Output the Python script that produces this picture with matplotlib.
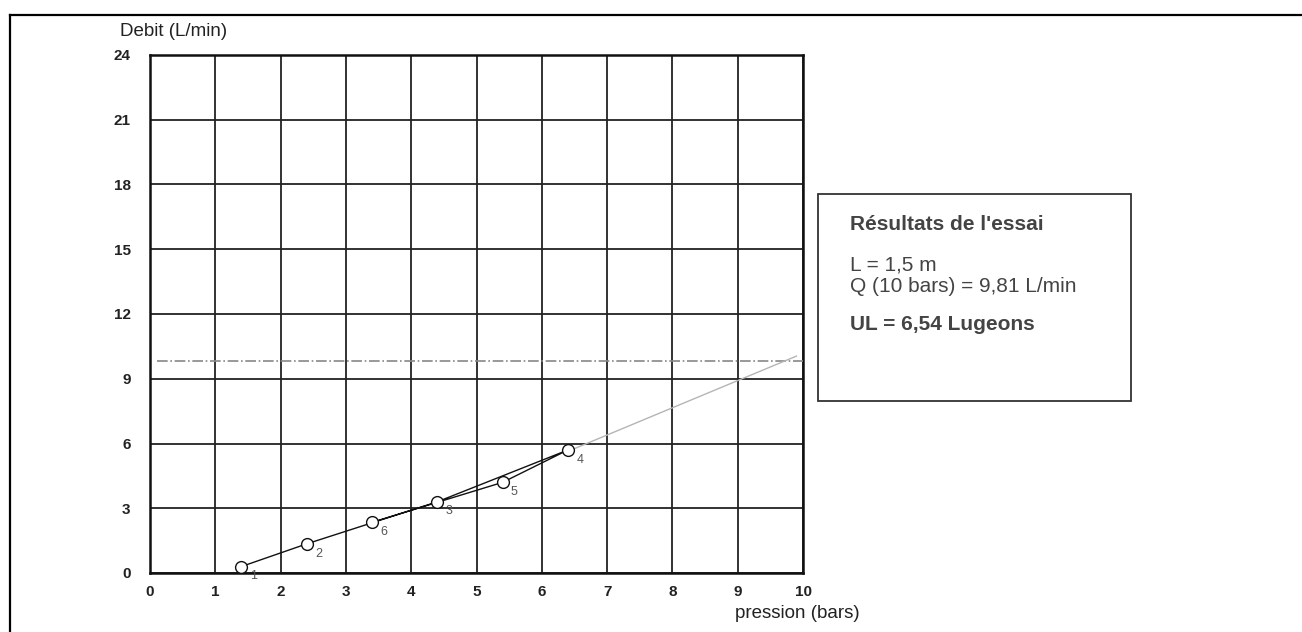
import numpy as np
import matplotlib.pyplot as plt
from matplotlib.patches import Rectangle
from matplotlib.lines import Line2D

# Lugeon test steps, in test order
essai = ['1', '2', '3', '4', '5', '6']
pression = [1.4, 2.4, 4.4, 6.4, 5.4, 3.4]
debit = [0.3, 1.35, 3.3, 5.7, 4.2, 2.35]

# extrapolation up to 10 bars
extrap_p = [6.45, 9.9]
extrap_q = [5.7, 10.05]
q_10bars = 9.81

x_ticks = list(range(0, 11))
y_ticks = list(range(0, 25, 3))

resultats = ["L = 1,5 m", "Q (10 bars) = 9,81 L/min", "UL = 6,54 Lugeons"]

plt.rcParams['font.family'] = ['Liberation Sans', 'DejaVu Sans']

W, H = 1302, 632
fig = plt.figure(figsize=(W / 100, H / 100), dpi=100)
ax = fig.add_axes([150 / W, 1 - 573 / H, 653 / W, 518 / H])

ax.set_xlim(0, 10)
ax.set_ylim(0, 24)
ax.set_xticks(x_ticks)
ax.set_yticks(y_ticks)
ax.tick_params(length=0, labelsize=11, colors='#222')
ax.tick_params(axis='y', pad=14)
ax.tick_params(axis='x', pad=9)
for lab in ax.get_xticklabels() + ax.get_yticklabels():
    lab.set_fontweight('bold')
ax.grid(True, color='#222', lw=1.3)
for s in ax.spines.values():
    s.set_linewidth(1.8)
    s.set_color('#111')

# horizontal line at Q(10 bars)
ax.axhline(q_10bars, xmin=0.01, xmax=1, color='#888', lw=1.2, ls='-.', zorder=3)
# extrapolation
ax.plot(extrap_p, extrap_q, color='#b5b5b5', lw=1.0, zorder=3)

# measured points
ax.plot(pression, debit, color='#111', lw=1.0, zorder=4)
ax.plot(pression, debit, 'o', ms=8.5, mfc='white', mec='#111', mew=1.0, zorder=5)
for lab, p, q in zip(essai, pression, debit):
    ax.annotate(lab, (p, q), xytext=(6, -7), textcoords='offset points',
                fontsize=9, color='#555', va='center')

# axis titles
fig.text(120 / W, 1 - 31 / H, "Debit (L/min)", fontsize=13.5, color='#222', va='center')
fig.text(735 / W, 1 - 614 / H, "pression (bars)", fontsize=13.5, color='#222', va='center')

# page frame
fig.add_artist(Line2D([10 / W, 1.0], [1 - 15 / H] * 2, transform=fig.transFigure, color='black', lw=1.6))
fig.add_artist(Line2D([10 / W] * 2, [0, 1 - 15 / H], transform=fig.transFigure, color='black', lw=1.6))

# results box
fig.add_artist(Rectangle((818 / W, 1 - 401 / H), 313 / W, 207 / H, transform=fig.transFigure,
                         fill=False, edgecolor='#333', lw=1.3))
fig.text(850 / W, 1 - 225 / H, "Résultats de l'essai", fontsize=15, fontweight='bold',
         color='#444', va='center')
fig.text(850 / W, 1 - 265 / H, resultats[0], fontsize=15, color='#444', va='center')
fig.text(850 / W, 1 - 287 / H, resultats[1], fontsize=15, color='#444', va='center')
fig.text(850 / W, 1 - 325 / H, resultats[2], fontsize=15, fontweight='bold', color='#444', va='center')

fig.savefig('out.png', dpi=100)
